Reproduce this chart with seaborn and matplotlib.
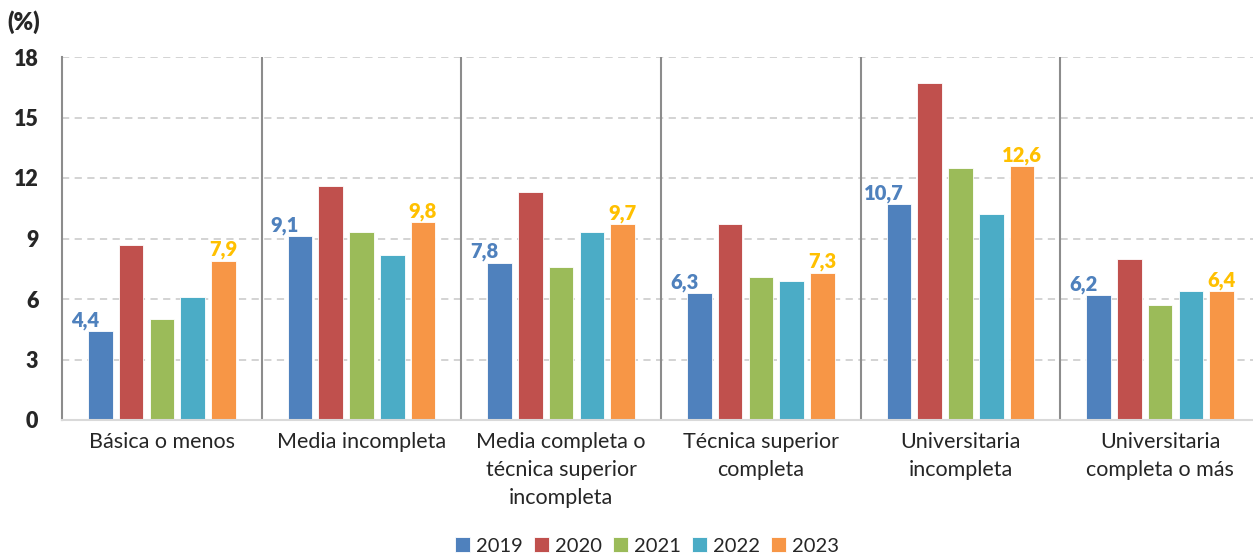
import matplotlib
matplotlib.use("Agg")
import matplotlib.pyplot as plt
import seaborn as sns
import pandas as pd

categories = ["Básica o menos", "Media incompleta",
              "Media completa o\ntécnica superior\nincompleta",
              "Técnica superior\ncompleta", "Universitaria\nincompleta",
              "Universitaria\ncompleta o más"]
years = ["2019", "2020", "2021", "2022", "2023"]
v2019 = [4.4, 9.1, 7.8, 6.3, 10.7, 6.2]
v2020 = [8.7, 11.6, 11.3, 9.7, 16.7, 8.0]
v2021 = [5.0, 9.3, 7.6, 7.1, 12.5, 5.7]
v2022 = [6.1, 8.2, 9.3, 6.9, 10.2, 6.4]
v2023 = [7.9, 9.8, 9.7, 7.3, 12.6, 6.4]
yticks = [0, 3, 6, 9, 12, 15, 18]

series = [v2019, v2020, v2021, v2022, v2023]
rows = []
for y, vals in zip(years, series):
    for c, v in zip(categories, vals):
        rows.append({"cat": c, "year": y, "value": v})
df = pd.DataFrame(rows)

colors = ["#4F81BD", "#C0504D", "#9BBB59", "#4BACC6", "#F79646"]

sns.set_theme(style="white")
plt.rcParams["font.family"] = ["Lato", "DejaVu Sans"]
BOLD = 800

fig = plt.figure(figsize=(12.53, 5.56), dpi=100)
ax = fig.add_axes([62/1253, 1-420/556, 1198/1253, 363/556])

sns.barplot(data=df, x="cat", y="value", hue="year", order=categories,
            hue_order=years, palette=colors, saturation=1, width=0.77, gap=0.2,
            edgecolor="white", linewidth=0.6, ax=ax, legend=True)

ax.set_xlim(-0.5, 5.5)
ax.set_ylim(0, 18)
ax.set_yticks(yticks)
ax.set_yticklabels([str(t) for t in yticks], fontsize=15.5, fontweight=BOLD)
ax.tick_params(axis="y", length=0, pad=17)
ax.tick_params(axis="x", length=0, pad=9, labelsize=15.5)
for lab in ax.get_xticklabels():
    lab.set_linespacing(1.5)
    lab.set_verticalalignment("top")
ax.set_xlabel("")
ax.set_ylabel("")

for t in yticks[1:]:
    ax.axhline(t, color="#D0D0D0", lw=1.3, ls=(0, (4, 3)), zorder=0)
for x in [0.5, 1.5, 2.5, 3.5, 4.5]:
    ax.axvline(x, color="#8C8C8C", lw=1.5, zorder=0.5)

for s in ["top", "right"]:
    ax.spines[s].set_visible(False)
ax.spines["left"].set_color("#8C8C8C")
ax.spines["left"].set_linewidth(1.5)
ax.spines["bottom"].set_color("#D9D9D9")
ax.spines["bottom"].set_linewidth(1.5)

pitch = 0.77 / 5
for i in range(len(categories)):
    x19 = i - 2 * pitch - 0.075
    ax.annotate(f"{v2019[i]:.1f}".replace(".", ","), (x19, v2019[i]),
                xytext=(0, 1), textcoords="offset points", ha="center",
                va="bottom", color="#4F81BD", fontsize=14.5, fontweight=BOLD)
    x23 = i + 2 * pitch
    ax.annotate(f"{v2023[i]:.1f}".replace(".", ","), (x23, v2023[i]),
                xytext=(0, 1), textcoords="offset points", ha="center",
                va="bottom", color="#FFC000", fontsize=14.5, fontweight=BOLD)

handles, labels = ax.get_legend_handles_labels()
ax.legend_.remove()
fig.legend(handles, labels, loc="center", bbox_to_anchor=(647/1253, 1-546/556),
           ncol=5, frameon=False, fontsize=14.5, handlelength=0.75,
           handleheight=0.75, handletextpad=0.3, columnspacing=0.55)

fig.text(7/1253, 1-22/556, "(%)", fontsize=17, fontweight=BOLD,
         ha="left", va="center")

fig.savefig("out.png", dpi=100)
